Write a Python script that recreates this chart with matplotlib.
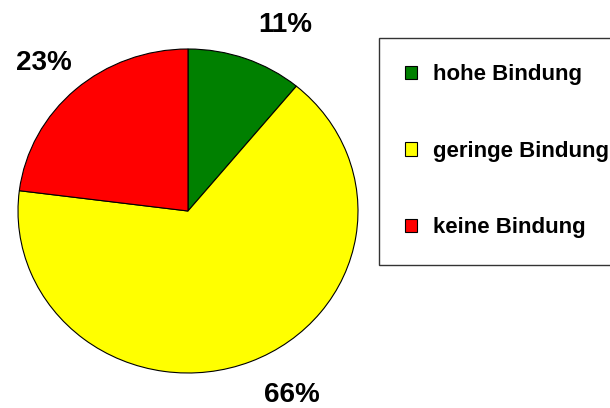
import matplotlib.pyplot as plt
from matplotlib.font_manager import FontProperties

labels = ['hohe Bindung', 'geringe Bindung', 'keine Bindung']
values = [11, 66, 23]
colors = ['#008000', '#ffff00', '#ff0000']

fig = plt.figure(figsize=(6.1, 4.08), dpi=100)
W, H = 610, 408
# pie area in pixels: x 18..358, y 49..373
ax = fig.add_axes([18 / W, (H - 373) / H, 340 / W, 324 / H])
wedges, texts, autotexts = ax.pie(values, colors=colors, startangle=90, counterclock=False,
                                  autopct='%d%%', pctdistance=1.22, radius=1,
                                  wedgeprops=dict(edgecolor='black', linewidth=0.8))
ax.set_aspect('auto')
ax.set_xlim(-1, 1)
ax.set_ylim(-1, 1)
for t in autotexts:
    t.set_fontsize(20)
    t.set_fontweight('bold')
    t.set_family(['Liberation Sans', 'DejaVu Sans'])
    t.set_clip_on(False)
    x, y = t.get_position()
    if x > 0:
        t.set_ha('left')
    else:
        t.set_position((x - 0.04, y))
    t.set_va('center')

leg = fig.legend(wedges, labels, loc='upper left', bbox_to_anchor=(379 / W, 1 - 38 / H),
                 frameon=True, fancybox=False, edgecolor='black', shadow=False,
                 prop=FontProperties(family=['Liberation Sans'], weight='bold', size=16),
                 labelspacing=2.5, handlelength=0.55, handleheight=0.55, handletextpad=0.68,
                 borderpad=1.18, borderaxespad=0)
leg.get_frame().set_linewidth(1.0)
for h in leg.legend_handles:
    h.set_linewidth(0.8)

fig.savefig('out.png', dpi=100)
